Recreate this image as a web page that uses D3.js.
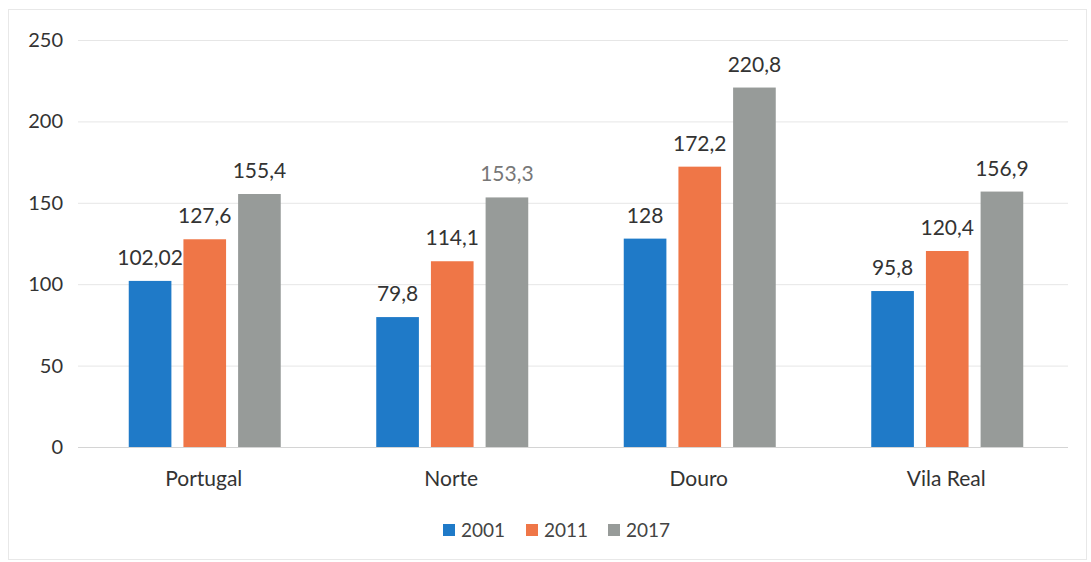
<!DOCTYPE html>
<html><head><meta charset="utf-8">
<script src="https://cdn.jsdelivr.net/npm/d3@7"></script>
<style>body{margin:0;background:#fff;} text{font-family:Lato,"Open Sans",sans-serif;}</style>
</head><body>
<svg id="c" width="1091" height="562"></svg>
<script>
const categories = ["Portugal","Norte","Douro","Vila Real"];
const series = ["2001","2011","2017"];
const values2001 = [102.02, 79.8, 128, 95.8];
const values2011 = [127.6, 114.1, 172.2, 120.4];
const values2017 = [155.4, 153.3, 220.8, 156.9];
const labels2001 = ["102,02","79,8","128","95,8"];
const labels2011 = ["127,6","114,1","172,2","120,4"];
const labels2017 = ["155,4","153,3","220,8","156,9"];
const yTicks = [0,50,100,150,200,250];
const colors = ["#1f7ac8","#ef7647","#979b99"];

const allVals = [values2001, values2011, values2017];
const allLabels = [labels2001, labels2011, labels2017];

const svg = d3.select("#c");
svg.append("rect").attr("x",8.5).attr("y",9.5).attr("width",1078).attr("height",550)
  .attr("fill","none").attr("stroke","#e8e8e8");

const x = d3.scaleBand().domain(categories).range([80,1070]);
const y = d3.scaleLinear().domain([0,250]).range([447,40]);
const xs = d3.scaleBand().domain(series).range([-75,77]).paddingInner(0.22);

svg.append("g").selectAll("line").data(yTicks).join("line")
  .attr("x1",78).attr("x2",1068).attr("y1",d=>y(d)+0.5).attr("y2",d=>y(d)+0.5)
  .attr("stroke",d=>d===0?"#d4d4d4":"#e6e6e6").attr("stroke-width",1);

svg.append("g").selectAll("text").data(yTicks).join("text")
  .attr("x",63).attr("y",d=>y(d)).attr("dy","0.35em").attr("text-anchor","end")
  .attr("font-size",20).attr("fill","#333").text(d=>d);

series.forEach((s,si)=>{
  const g = svg.append("g");
  g.selectAll("rect").data(categories).join("rect")
    .attr("x",(c)=>x(c)+x.bandwidth()/2+xs(s))
    .attr("y",(c,i)=>y(allVals[si][i]))
    .attr("width",xs.bandwidth())
    .attr("height",(c,i)=>y(0)-y(allVals[si][i]))
    .attr("fill",colors[si]);
  g.selectAll("text").data(categories).join("text")
    .attr("x",(c)=>x(c)+x.bandwidth()/2+xs(s)+xs.bandwidth()/2)
    .attr("y",(c,i)=>y(allVals[si][i])-16)
    .attr("text-anchor","middle").attr("font-size",21)
    .attr("fill",(c,i)=>(si===2&&i===1)?"#777":"#333")
    .text((c,i)=>allLabels[si][i]);
});

svg.append("g").selectAll("text").data(categories).join("text")
  .attr("x",c=>x(c)+x.bandwidth()/2).attr("y",479).attr("dy","0.35em")
  .attr("text-anchor","middle").attr("font-size",21).attr("fill","#333")
  .text(d=>d);

const legX = [443,526,608];
const lg = svg.append("g");
series.forEach((s,i)=>{
  lg.append("rect").attr("x",legX[i]).attr("y",524).attr("width",12).attr("height",12).attr("fill",colors[i]);
  lg.append("text").attr("x",legX[i]+18).attr("y",530).attr("dy","0.35em")
    .attr("font-size",19).attr("fill","#444").text(s);
});
</script>
</body></html>
